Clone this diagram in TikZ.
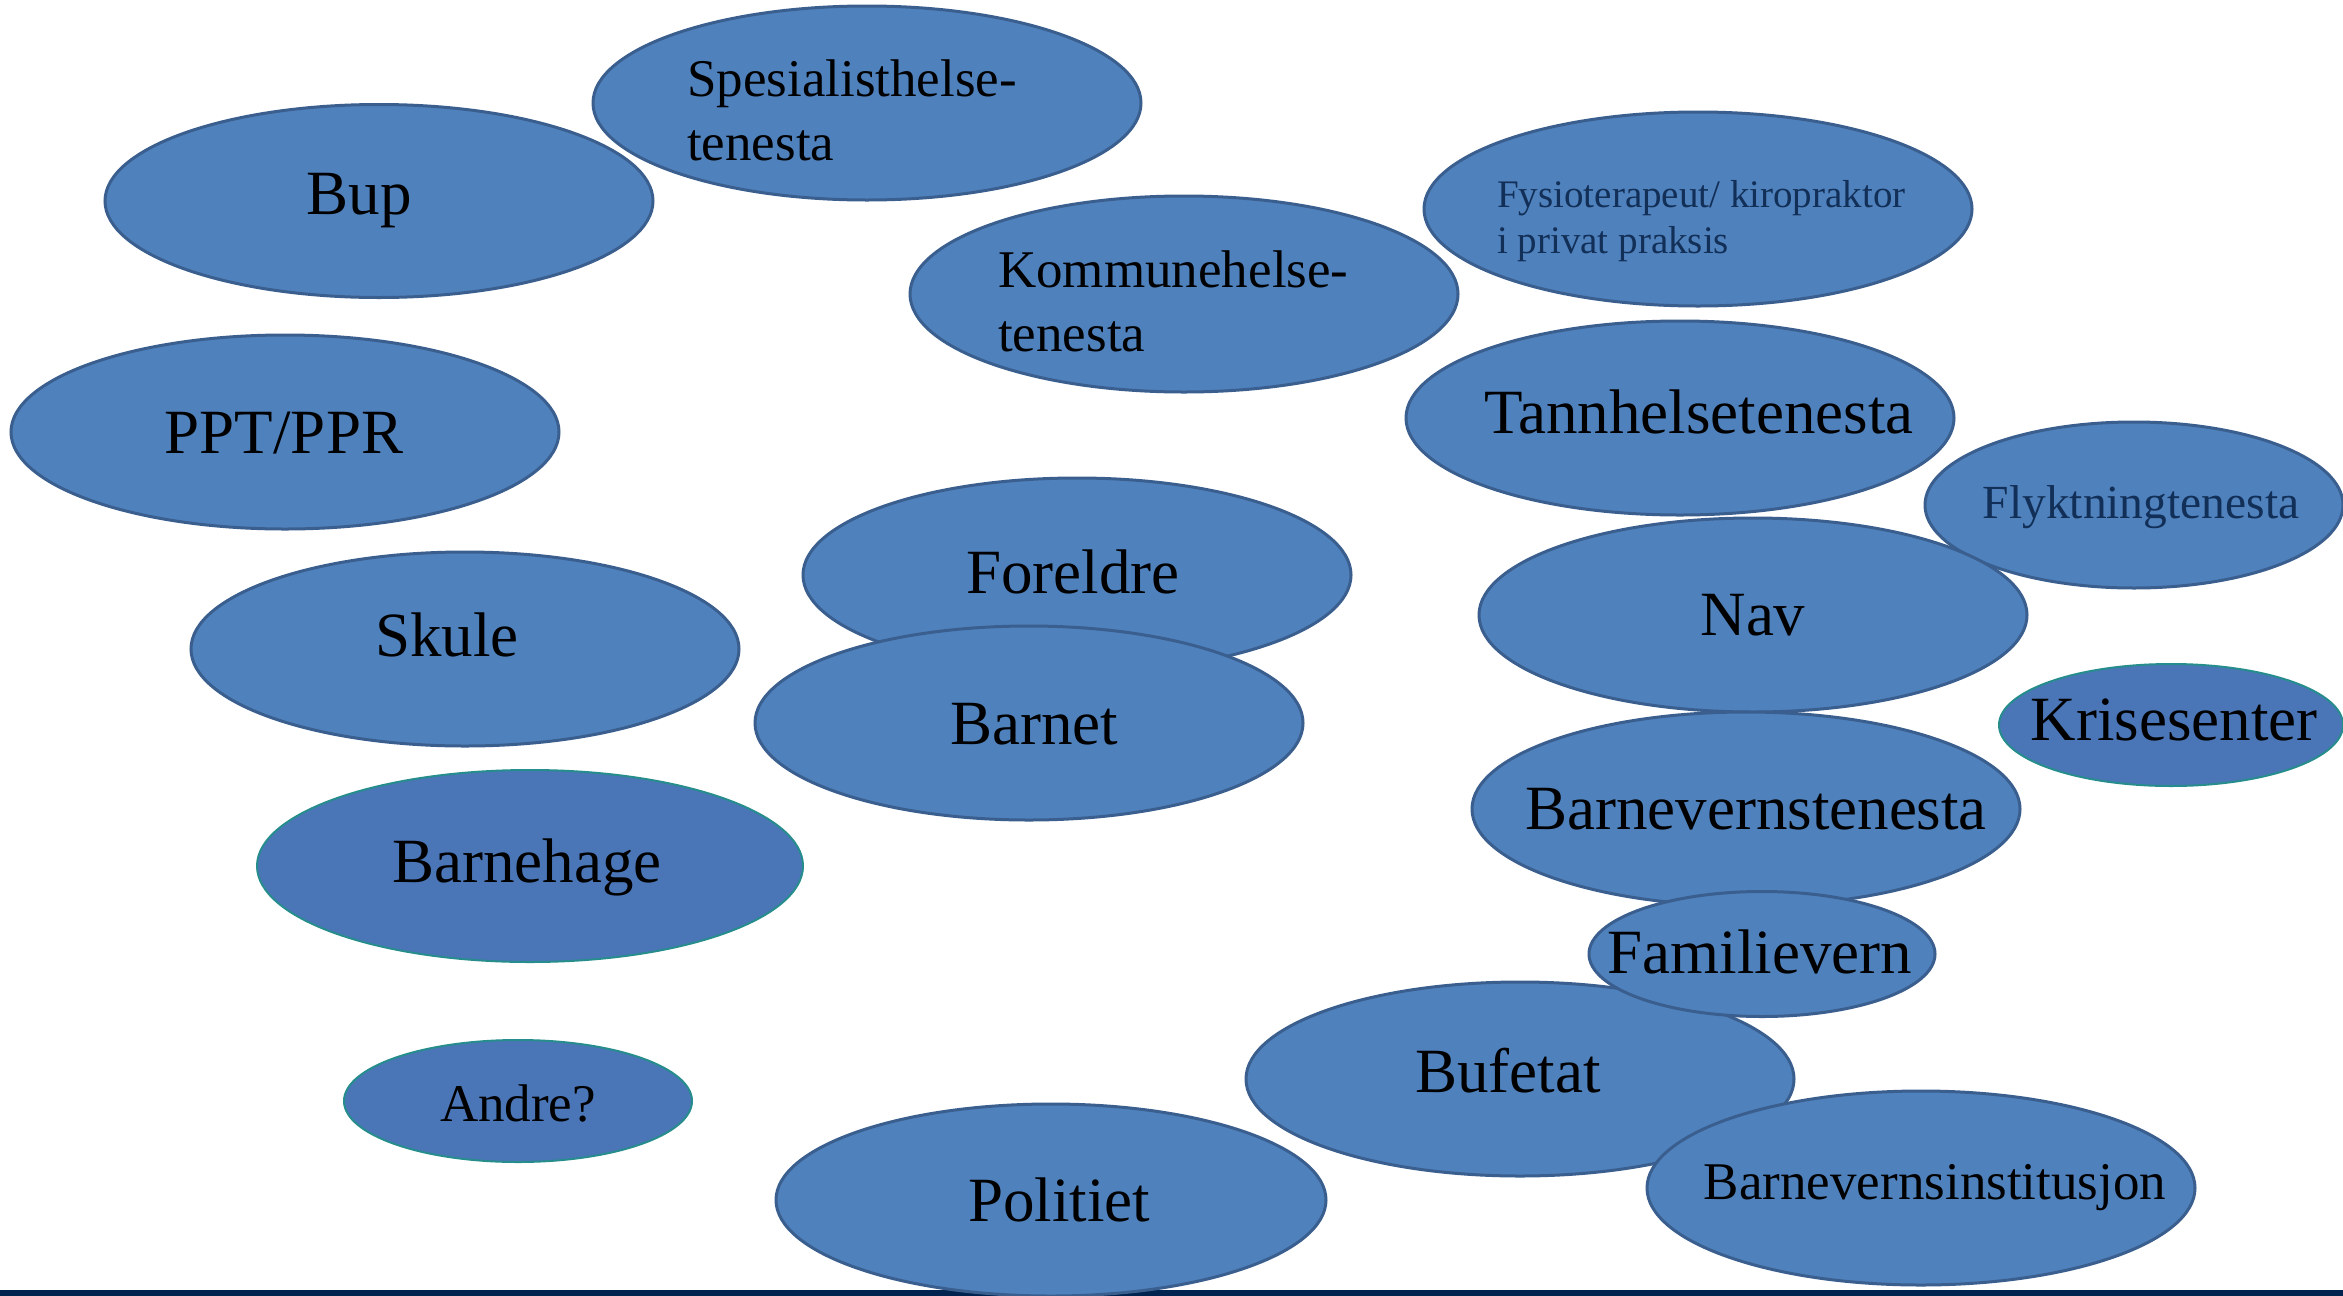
\documentclass[tikz,border=0pt]{standalone}
\usepackage{fontspec}
\setmainfont{Liberation Serif}
\usetikzlibrary{shapes.geometric}
\definecolor{ovfill}{HTML}{4F81BD}
\definecolor{ovline}{HTML}{3A5F8E}
\definecolor{tlfill}{HTML}{4A76B8}
\definecolor{tlline}{HTML}{268C8C}
\definecolor{navytext}{HTML}{122F57}
\definecolor{barcol}{HTML}{00234F}
\tikzset{
  ov/.style n args={2}{ellipse, fill=ovfill, draw=ovline, line width=3pt, inner sep=0pt,
     minimum width=#1pt, minimum height=#2pt},
  tl/.style n args={2}{ellipse, fill=tlfill, draw=tlline, line width=2pt, inner sep=0pt,
     minimum width=#1pt, minimum height=#2pt},
  big/.style={anchor=base, inner sep=0pt, font=\fontsize{63}{75}\selectfont},
  mid/.style={anchor=base west, inner sep=0pt, font=\fontsize{53}{64}\selectfont},
  midc/.style={anchor=base, inner sep=0pt, font=\fontsize{53}{64}\selectfont},
}
\begin{document}
\begin{tikzpicture}[x=1pt,y=-1pt]
\useasboundingbox (0,0) rectangle (2343,1296);
\fill[white] (0,0) rectangle (2343,1296);
\fill[barcol] (0,1290) rectangle (2343,1296);
% Spesialisthelsetenesta
\node[ov={548}{194}] (spes) at (867,103) {};
\node[mid] (spest1) at (687,96) {Spesialisthelse-};
\node[mid] (spest2) at (687,160) {tenesta};
% Bup
\node[ov={548}{193}] (bup) at (379,201) {};
\node[big] (bupt) at (359,214) {Bup};
% Kommunehelsetenesta
\node[ov={548}{196}] (komm) at (1184,294) {};
\node[mid] (kommt1) at (998,287) {Kommunehelse-};
\node[mid] (kommt2) at (998,351) {tenesta};
% Fysioterapeut
\node[ov={548}{194}] (fys) at (1698,209) {};
\node[anchor=base west, inner sep=0pt, font=\fontsize{39}{47}\selectfont, text=navytext] (fyst1) at (1497,207) {Fysioterapeut/ kiropraktor};
\node[anchor=base west, inner sep=0pt, font=\fontsize{39}{47}\selectfont, text=navytext] (fyst2) at (1497,253) {i privat praksis};
% PPT/PPR
\node[ov={548}{194}] (ppt) at (285,432) {};
\node[big] (pptt) at (284,453) {PPT/PPR};
% Tannhelsetenesta
\node[ov={548}{194}] (tann) at (1680,418) {};
\node[big] (tannt) at (1699,433) {Tannhelsetenesta};
% Flyktningtenesta
\node[ov={418}{166}] (flykt) at (2134,505) {};
\node[anchor=base, inner sep=0pt, font=\fontsize{47.5}{57}\selectfont, text=navytext] (flyktt) at (2141,518) {Flyktningtenesta};
% Foreldre
\node[ov={548}{194}] (fore) at (1077,575) {};
\node[big] (foret) at (1073,593) {Foreldre};
% Skule
\node[ov={548}{194}] (skule) at (465,649) {};
\node[big] (skulet) at (447,656) {Skule};
% Nav
\node[ov={548}{194}] (nav) at (1753,615) {};
\node[big] (navt) at (1753,635) {Nav};
% Barnet
\node[ov={548}{194}] (barnet) at (1029,723) {};
\node[big] (barnett) at (1034,744) {Barnet};
% Krisesenter
\node[tl={344}{122}] (krise) at (2171,725) {};
\node[big] (kriset) at (2174,740) {Krisesenter};
% Barnevernstenesta
\node[ov={548}{194}] (bvt) at (1746,809) {};
\node[big] (bvtt) at (1756,829) {Barnevernstenesta};
% Barnehage
\node[tl={546}{192}] (bhage) at (530,866) {};
\node[big] (bhaget) at (527,882) {Barnehage};
% Bufetat
\node[ov={548}{194}] (bufetat) at (1520,1079) {};
\node[big] (bufetatt) at (1508,1092) {Bufetat};
% Familievern
\node[ov={346}{125}] (famv) at (1762,954) {};
\node[big] (famvt) at (1760,973) {Familievern};
% Andre?
\node[tl={348}{122}] (andre) at (518,1101) {};
\node[midc] (andret) at (518,1121) {Andre?};
% Politiet
\node[ov={550}{192}] (politi) at (1051,1200) {};
\node[big] (politit) at (1059,1221) {Politiet};
% Barnevernsinstitusjon
\node[ov={548}{194}] (bvi) at (1921,1188) {};
\node[midc] (bvit) at (1935,1199) {Barnevernsinstitusjon};
\end{tikzpicture}
\end{document}
